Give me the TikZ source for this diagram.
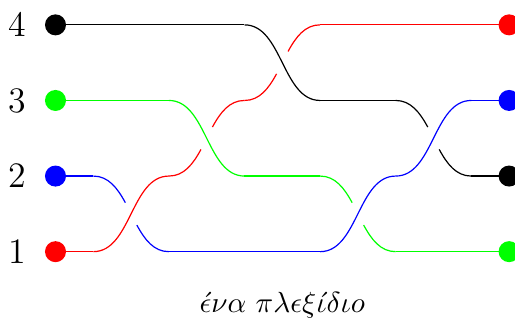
\documentclass[tikz,border=0pt]{standalone}
\usetikzlibrary{calc}
\tikzset{
  strand/.style={line width=0.45pt},
  enddot/.style={circle,fill,inner sep=0pt,minimum size=0.278cm},
  rowlabel/.style={font=\fontsize{13.5}{16}\selectfont,inner sep=0pt},
  caption/.style={font=\fontsize{11}{13}\selectfont,inner sep=0pt}
}
% over strand of a crossing: left end (x0,y0), vertical change d, colour
\newcommand{\brOver}[4]{%
  \draw[strand,#4] (#1,#2) .. controls +(0.5,0) and +(-0.5,0) .. ({#1+1},{#2+#3});}
% under strand of a crossing, with a gap in the middle
\newcommand{\brUnder}[4]{%
  \draw[strand,#4] (#1,#2) .. controls ({#1+0.2},#2) and ({#1+0.32},{#2+0.16*#3}) .. ({#1+0.424},{#2+0.352*#3});
  \draw[strand,#4] ({#1+0.576},{#2+0.648*#3}) .. controls ({#1+0.68},{#2+0.84*#3}) and ({#1+0.8},{#2+#3}) .. ({#1+1},{#2+#3});}
\begin{document}
\begin{tikzpicture}
\useasboundingbox (-0.734,0.044) rectangle (6.078,4.329);
% horizontal pieces
\draw[strand,red] (0,1) -- (0.5,1);
\draw[strand,red] (3.5,4) -- (6,4);
\draw[strand,blue] (0,2) -- (0.5,2);
\draw[strand,blue] (1.5,1) -- (3.5,1);
\draw[strand,blue] (5.5,3) -- (6,3);
\draw[strand,green] (0,3) -- (1.5,3);
\draw[strand,green] (2.5,2) -- (3.5,2);
\draw[strand,green] (4.5,1) -- (6,1);
\draw[strand,black] (0,4) -- (2.5,4);
\draw[strand,black] (3.5,3) -- (4.5,3);
\draw[strand,black] (5.5,2) -- (6,2);
% crossings
\brUnder{0.5}{2}{-1}{blue}  \brOver{0.5}{1}{1}{red}
\brUnder{1.5}{2}{1}{red}    \brOver{1.5}{3}{-1}{green}
\brUnder{2.5}{3}{1}{red}    \brOver{2.5}{4}{-1}{black}
\brUnder{3.5}{2}{-1}{green} \brOver{3.5}{1}{1}{blue}
\brUnder{4.5}{3}{-1}{black} \brOver{4.5}{2}{1}{blue}
% end dots
\node[enddot,red]   (L1) at (0,1) {};
\node[enddot,blue]  (L2) at (0,2) {};
\node[enddot,green] (L3) at (0,3) {};
\node[enddot,black] (L4) at (0,4) {};
\node[enddot,green] (R1) at (6,1) {};
\node[enddot,black] (R2) at (6,2) {};
\node[enddot,blue]  (R3) at (6,3) {};
\node[enddot,red]   (R4) at (6,4) {};
% labels
\node[rowlabel] (n1) at (-0.505,1) {1};
\node[rowlabel] (n2) at (-0.505,2) {2};
\node[rowlabel] (n3) at (-0.505,3) {3};
\node[rowlabel] (n4) at (-0.505,4) {4};
\node[caption] (cap) at (3,0.295) {$\acute{\epsilon}\nu\alpha\ \pi\lambda\epsilon\xi\acute{\iota}\delta\iota o$};
\end{tikzpicture}
\end{document}
